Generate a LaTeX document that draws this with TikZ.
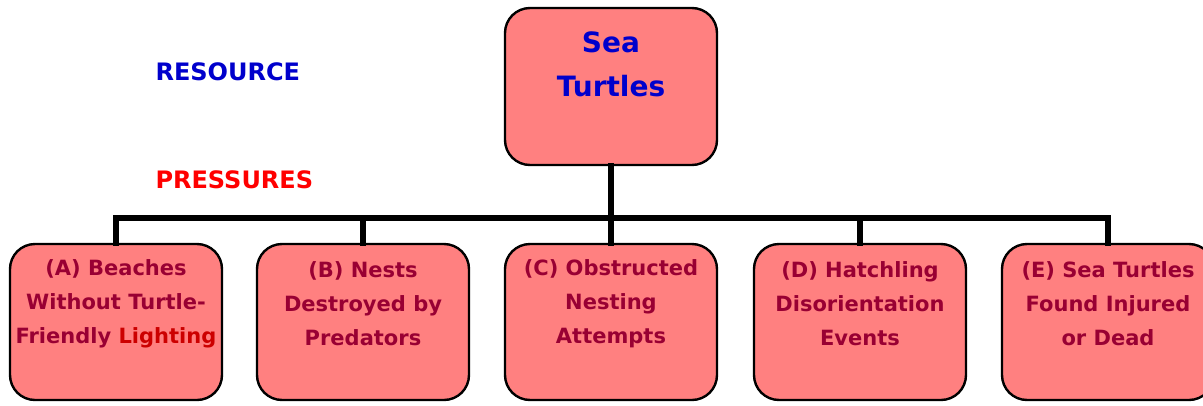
\documentclass[tikz,border=0pt]{standalone}
\usepackage{fontspec}
\setmainfont{DejaVu Sans}
\usetikzlibrary{positioning,calc}

\definecolor{boxpink}{RGB}{255,128,128}
\definecolor{labelred}{RGB}{153,0,51}
\definecolor{litered}{RGB}{204,0,0}
\definecolor{resblue}{RGB}{0,0,204}
\definecolor{presred}{RGB}{255,0,0}

\begin{document}
\begin{tikzpicture}[
  x=1pt, y=-1pt,
  card/.style={fill=boxpink, draw=black, line width=2.4pt, rounded corners=25pt,
               minimum width=212pt, inner sep=0pt},
  cardtext/.style={align=center, text=labelred, font=\fontsize{21}{34}\selectfont\bfseries},
  trunk/.style={black, line width=6pt, line cap=rect},
  heading/.style={anchor=west, font=\fontsize{24}{28}\selectfont\bfseries}
]
  \useasboundingbox (0,0) rectangle (1203,405);

  % --- resource box at the top ---
  \node[card, minimum height=157pt] (top) at (611,86.5) {};
  \node[align=center, text=resblue, font=\fontsize{28}{44}\selectfont\bfseries] (toptext)
       at (611,64) {Sea\\Turtles};

  % --- side headings ---
  \node[heading, text=resblue] (res) at (152,72) {RESOURCE};
  \node[heading, text=presred] (pres) at (152,180) {PRESSURES};

  % --- pressure boxes A..E ---
  \foreach \cx/\name/\txt in {
      116/pA/{(A) Beaches\\Without Turtle-\\Friendly \textcolor{litered}{Lighting}},
      363/pB/{(B) Nests\\Destroyed by\\Predators},
      611/pC/{(C) Obstructed\\Nesting\\Attempts},
      860/pD/{(D) Hatchling\\Disorientation\\Events},
      1108/pE/{(E) Sea Turtles\\Found Injured\\or Dead}} {
    \node[card, minimum height=156pt] (\name) at (\cx,322) {};
    \node[cardtext] (\name txt) at (\cx,304) {\txt};
  }

  % --- tree connectors ---
  \coordinate (junc) at (611,218);
  \draw[trunk] (top.south) -- (junc);
  \draw[trunk] (pA.north |- junc) -- (pE.north |- junc);
  \foreach \name in {pA,pB,pC,pD,pE} {
    \draw[trunk] (\name.north |- junc) -- (\name.north);
  }

\end{tikzpicture}
\end{document}
